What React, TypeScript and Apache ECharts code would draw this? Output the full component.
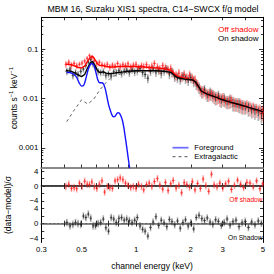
import React, { useEffect, useRef } from 'react';
import * as echarts from 'echarts';

// ---------- data ----------
const offE = [0.410, 0.425, 0.440, 0.455, 0.470, 0.487, 0.503, 0.520, 0.537, 0.553, 0.570, 0.588, 0.607, 0.627, 0.648, 0.670, 0.693, 0.716, 0.740, 0.765, 0.790, 0.817, 0.845, 0.873, 0.902, 0.933, 0.965, 0.998, 1.03, 1.07, 1.10, 1.14, 1.18, 1.22, 1.26, 1.31, 1.35, 1.40, 1.45, 1.50, 1.55, 1.60, 1.66, 1.72, 1.78, 1.84, 1.90, 1.97, 2.04, 2.11, 2.18, 2.26, 2.34, 2.42, 2.51, 2.60, 2.69, 2.79, 2.89, 3.00, 3.11, 3.23, 3.35, 3.48, 3.62, 3.76, 3.91, 4.07, 4.24, 4.42, 4.61, 4.81, 4.98];
const offV = [0.050, 0.055, 0.048, 0.052, 0.047, 0.050, 0.053, 0.058, 0.066, 0.075, 0.068, 0.060, 0.052, 0.055, 0.049, 0.047, 0.050, 0.044, 0.048, 0.046, 0.052, 0.045, 0.049, 0.047, 0.051, 0.044, 0.048, 0.050, 0.043, 0.047, 0.045, 0.049, 0.042, 0.046, 0.052, 0.044, 0.040, 0.047, 0.043, 0.039, 0.041, 0.034, 0.030, 0.033, 0.028, 0.031, 0.027, 0.030, 0.026, 0.024, 0.019, 0.015, 0.014, 0.013, 0.012, 0.0125, 0.011, 0.0105, 0.0098, 0.0100, 0.0090, 0.0088, 0.0092, 0.0080, 0.0078, 0.0075, 0.0070, 0.0072, 0.0066, 0.0063, 0.0060, 0.0057, 0.0053];
const offErr = [0.16, 0.15, 0.17, 0.15, 0.16, 0.14, 0.15, 0.13, 0.12, 0.12, 0.13, 0.14, 0.15, 0.14, 0.16, 0.16, 0.15, 0.17, 0.16, 0.17, 0.15, 0.18, 0.16, 0.17, 0.16, 0.18, 0.17, 0.16, 0.18, 0.17, 0.19, 0.18, 0.20, 0.19, 0.18, 0.20, 0.21, 0.19, 0.20, 0.21, 0.22, 0.21, 0.23, 0.22, 0.24, 0.23, 0.22, 0.24, 0.23, 0.25, 0.26, 0.27, 0.28, 0.27, 0.29, 0.28, 0.30, 0.29, 0.31, 0.30, 0.29, 0.31, 0.30, 0.32, 0.31, 0.33, 0.32, 0.31, 0.33, 0.34, 0.32, 0.34, 0.35];
const offRes = [-0.1, 0.5, -0.6, -0.4, -0.7, 0.8, -0.1, 1.3, 0.5, 0.4, 1.1, -0.2, -0.6, 0.5, 1.4, -1.6, -0.1, -0.4, -0.6, 1.4, 1.7, 2.2, 1.7, 0.8, 0.2, -0.4, -0.1, -0.6, 0.5, -0.1, -1.0, 0.4, 0.8, -0.1, 1.2, 2.0, 0.3, -0.8, 1.0, -1.2, 0.6, 1.5, -0.5, 0.2, -1.8, 0.9, 0.4, -0.3, 1.2, -1.0, 0.7, -0.6, 1.9, 0.1, -1.4, 3.2, 0.3, -0.2, 0.8, -0.5, 0.6, 1.3, -0.9, 0.2, 1.6, 0.5, -0.4, 1.0, 0.8, -0.2, 1.4, -0.7, 0.6];

const onE = [0.415, 0.432, 0.448, 0.463, 0.478, 0.495, 0.512, 0.528, 0.545, 0.562, 0.579, 0.597, 0.617, 0.637, 0.659, 0.681, 0.704, 0.728, 0.752, 0.777, 0.803, 0.831, 0.859, 0.887, 0.917, 0.949, 0.981, 1.015, 1.05, 1.085, 1.12, 1.16, 1.20, 1.24, 1.285, 1.33, 1.375, 1.425, 1.475, 1.525, 1.575, 1.63, 1.69, 1.75, 1.81, 1.87, 1.935, 2.00, 2.075, 2.145, 2.22, 2.30, 2.38, 2.465, 2.555, 2.645, 2.74, 2.84, 2.945, 3.055, 3.17, 3.29, 3.415, 3.55, 3.69, 3.835, 3.99, 4.155, 4.33, 4.515, 4.71, 4.90];
const onV = [0.036, 0.040, 0.030, 0.034, 0.031, 0.036, 0.040, 0.047, 0.055, 0.062, 0.050, 0.043, 0.036, 0.034, 0.035, 0.030, 0.032, 0.029, 0.035, 0.034, 0.037, 0.033, 0.036, 0.038, 0.034, 0.039, 0.035, 0.037, 0.041, 0.034, 0.031, 0.026, 0.036, 0.040, 0.035, 0.038, 0.033, 0.037, 0.040, 0.032, 0.035, 0.028, 0.027, 0.025, 0.029, 0.026, 0.024, 0.027, 0.023, 0.020, 0.017, 0.014, 0.015, 0.012, 0.013, 0.0118, 0.0105, 0.0112, 0.0095, 0.0098, 0.0087, 0.0092, 0.0082, 0.0079, 0.0077, 0.0071, 0.0069, 0.0066, 0.0060, 0.0058, 0.0054, 0.0050];
const onErr = [0.17, 0.16, 0.18, 0.17, 0.18, 0.16, 0.15, 0.14, 0.13, 0.13, 0.14, 0.15, 0.17, 0.16, 0.17, 0.18, 0.17, 0.19, 0.17, 0.18, 0.17, 0.19, 0.18, 0.17, 0.19, 0.18, 0.18, 0.19, 0.18, 0.20, 0.19, 0.21, 0.20, 0.19, 0.21, 0.20, 0.22, 0.21, 0.20, 0.22, 0.23, 0.22, 0.24, 0.23, 0.22, 0.24, 0.25, 0.24, 0.26, 0.25, 0.27, 0.28, 0.27, 0.29, 0.30, 0.29, 0.31, 0.30, 0.32, 0.31, 0.30, 0.32, 0.33, 0.31, 0.34, 0.33, 0.32, 0.35, 0.34, 0.36, 0.35, 0.37];
const onRes = [0.3, -0.6, -0.2, 0.3, 0.0, -0.2, 2.0, 1.6, 2.5, 1.4, -0.6, -0.6, 0.0, 0.3, 1.2, -1.1, -2.0, 1.6, 1.2, 0.3, 1.4, 1.6, 0.9, 1.2, 0.8, 0.3, 0.9, 1.6, -0.6, -1.5, -2.0, -3.3, -1.0, 0.4, 1.8, -0.5, 0.9, 0.2, -0.8, 1.1, 0.5, -0.3, 0.7, -1.2, 0.3, 1.0, -0.6, 0.2, -1.4, 1.6, 2.2, 1.3, 0.8, 1.5, 0.4, -0.2, 1.0, 0.6, -0.5, 0.3, 1.2, -0.4, 0.5, 0.9, -0.8, 0.2, 0.6, -1.0, 0.4, -0.3, 0.7, 0.1];

const modelE = [0.41, 0.42, 0.44, 0.46, 0.48, 0.50, 0.52, 0.54, 0.56, 0.575, 0.59, 0.61, 0.63, 0.66, 0.68, 0.72, 0.76, 0.80, 0.85, 0.90, 1.0, 1.1, 1.2, 1.3, 1.4, 1.5, 1.56, 1.62, 1.68, 1.75, 1.85, 1.95, 2.05, 2.12, 2.2, 2.28, 2.35, 2.45, 2.6, 2.8, 3.0, 3.3, 3.6, 4.0, 4.4, 4.8, 5.0];
const onModelV = [0.038, 0.037, 0.036, 0.033, 0.030, 0.028, 0.031, 0.042, 0.054, 0.057, 0.049, 0.038, 0.034, 0.035, 0.033, 0.032, 0.033, 0.034, 0.035, 0.036, 0.037, 0.037, 0.037, 0.037, 0.036, 0.035, 0.034, 0.030, 0.027, 0.026, 0.025, 0.0245, 0.024, 0.022, 0.018, 0.0145, 0.0135, 0.0125, 0.0115, 0.0105, 0.0095, 0.0085, 0.0078, 0.007, 0.0063, 0.0057, 0.0054];
const offModelV = [0.050, 0.050, 0.049, 0.046, 0.043, 0.042, 0.046, 0.058, 0.070, 0.073, 0.064, 0.052, 0.047, 0.047, 0.045, 0.044, 0.044, 0.045, 0.045, 0.045, 0.045, 0.044, 0.043, 0.042, 0.041, 0.039, 0.037, 0.032, 0.029, 0.027, 0.026, 0.025, 0.024, 0.022, 0.018, 0.0145, 0.0135, 0.0125, 0.0115, 0.0105, 0.0095, 0.0085, 0.0078, 0.007, 0.0063, 0.0057, 0.0054];

const fgE = [0.414, 0.43, 0.44, 0.455, 0.47, 0.485, 0.50, 0.515, 0.53, 0.545, 0.56, 0.572, 0.585, 0.60, 0.615, 0.63, 0.645, 0.66, 0.675, 0.69, 0.705, 0.72, 0.735, 0.75, 0.765, 0.78, 0.795, 0.81, 0.825, 0.84, 0.855, 0.87, 0.885, 0.90, 0.915, 0.93];
const fgV = [0.034, 0.034, 0.033, 0.031, 0.027, 0.021, 0.018, 0.019, 0.027, 0.040, 0.050, 0.052, 0.047, 0.034, 0.024, 0.021, 0.021, 0.020, 0.016, 0.011, 0.0075, 0.0058, 0.0047, 0.0043, 0.0044, 0.0049, 0.0052, 0.0050, 0.0044, 0.0036, 0.0026, 0.0017, 0.0011, 0.0007, 0.00045, 0.0003];

const egE = [0.414, 0.45, 0.50, 0.54, 0.58, 0.63, 0.68, 0.72, 0.76, 0.80, 0.85, 0.9, 1.0, 1.1, 1.2, 1.3, 1.4, 1.5, 1.56, 1.62, 1.68, 1.75, 1.85, 1.95, 2.05, 2.12, 2.2, 2.28, 2.35, 2.45, 2.6, 2.8, 3.0, 3.3, 3.6, 4.0, 4.4, 4.8, 5.0];
const egV = [0.0034, 0.0055, 0.0095, 0.0078, 0.0095, 0.015, 0.021, 0.026, 0.029, 0.031, 0.033, 0.035, 0.036, 0.037, 0.037, 0.037, 0.036, 0.035, 0.034, 0.030, 0.027, 0.026, 0.025, 0.0245, 0.024, 0.022, 0.018, 0.0145, 0.0135, 0.0125, 0.0115, 0.0105, 0.0095, 0.0085, 0.0078, 0.007, 0.0063, 0.0057, 0.0054];

const xLabelValues = [0.3, 0.5, 1, 2, 3, 5];
const xTickValues = [0.3, 0.4, 0.5, 0.6, 0.7, 0.8, 0.9, 1, 2, 3, 4, 5];
const yMajorValues = [0.001, 0.01, 0.1];
const yMinorValues = [0.0005, 0.0006, 0.0007, 0.0008, 0.0009, 0.002, 0.003, 0.004, 0.005, 0.006, 0.007, 0.008, 0.009, 0.02, 0.03, 0.04, 0.05, 0.06, 0.07, 0.08, 0.09, 0.2, 0.3, 0.4];
const resTickValues = [-4, -2, 0, 2, 4];
const resLabelValues = [-4, 0, 4];

// ---------- helpers ----------
const FONT = 'Liberation Sans, Arial, Helvetica, sans-serif';
const X_MIN = 0.3, X_MAX = 5;
const Y_MIN = 0.0004, Y_MAX = 0.45;

function edges(E: number[]) {
  return E.map((e, i) => {
    const lo = i > 0 ? Math.sqrt(E[i - 1] * e) : e / Math.sqrt(E[1] / E[0]);
    const hi = i < E.length - 1 ? Math.sqrt(E[i + 1] * e) : e * Math.sqrt(e / E[i - 1]);
    return [lo, hi];
  });
}

function errData(E: number[], V: number[], err: number[]) {
  const ed = edges(E);
  return E.map((e, i) => [e, V[i], V[i] * (1 - err[i]), V[i] * (1 + err[i]), ed[i][0], ed[i][1]]);
}
function resData(E: number[], R: number[]) {
  const ed = edges(E);
  return E.map((e, i) => [e, R[i], R[i] - 1, R[i] + 1, ed[i][0], ed[i][1]]);
}

function errSeries(xi: number, yi: number, data: number[][], color: string, light: string, z: number) {
  return {
    type: 'custom',
    xAxisIndex: xi,
    yAxisIndex: yi,
    z,
    clip: true,
    silent: true,
    encode: { x: 0, y: 1 },
    data,
    renderItem: (params: any, api: any) => {
      const x = api.value(0), y = api.value(1);
      const c = api.coord([x, y]);
      const lo = api.coord([x, api.value(2)]);
      const hi = api.coord([x, api.value(3)]);
      const l = api.coord([api.value(4), y]);
      const r = api.coord([api.value(5), y]);
      const h = (lo[1] - hi[1]) * 0.28;
      return {
        type: 'group',
        children: [
          { type: 'line', shape: { x1: c[0], y1: lo[1], x2: c[0], y2: hi[1] }, style: { stroke: light, lineWidth: 1.6 } },
          { type: 'line', shape: { x1: c[0], y1: c[1] - h, x2: c[0], y2: c[1] + h }, style: { stroke: color, lineWidth: 0.7 } },
          { type: 'line', shape: { x1: l[0], y1: c[1], x2: r[0], y2: c[1] }, style: { stroke: color, lineWidth: 0.7 } },
        ],
      };
    },
  };
}

const gridL = 41.3, gridW = 221.7;
const grids = [
  { left: gridL, top: 17.3, width: gridW, height: 150.2, outerBoundsMode: 'none' },
  { left: gridL, top: 167.5, width: gridW, height: 37.2, outerBoundsMode: 'none' },
  { left: gridL, top: 204.7, width: gridW, height: 37.8, outerBoundsMode: 'none' },
];

const tickStyle = { color: '#000', width: 0.8 };
function xAx(grid: number, pos: string, line: any, labels: boolean) {
  return {
    type: 'log', logBase: 10, gridIndex: grid, position: pos, min: X_MIN, max: X_MAX,
    axisLine: line ? { show: true, lineStyle: line } : { show: false },
    axisTick: { show: true, inside: true, length: 3, customValues: xTickValues, lineStyle: tickStyle },
    axisLabel: labels
      ? { show: true, customValues: xLabelValues, formatter: (v: number) => String(+v.toPrecision(3)), fontSize: 7.8, color: '#000', fontFamily: FONT, margin: 3 }
      : { show: false },
    splitLine: { show: false }, minorTick: { show: false },
  };
}
function yLogAx(pos: string, minor: boolean, labels: boolean) {
  return {
    type: 'log', logBase: 10, gridIndex: 0, position: pos, offset: 0, min: Y_MIN, max: Y_MAX,
    axisLine: minor ? { show: false } : { show: true, lineStyle: { color: '#000', width: 1 } },
    axisTick: { show: true, inside: true, length: minor ? 2 : 4, customValues: minor ? yMinorValues : yMajorValues, lineStyle: tickStyle },
    axisLabel: labels
      ? { show: true, customValues: yMajorValues, formatter: (v: number) => String(+v.toPrecision(3)), fontSize: 7.8, color: '#000', fontFamily: FONT, margin: 3 }
      : { show: false },
    splitLine: { show: false }, minorTick: { show: false },
  };
}
function yResAx(grid: number, pos: string, labels: boolean) {
  return {
    type: 'value', gridIndex: grid, position: pos, min: -5, max: 5,
    axisLine: { show: true, lineStyle: { color: '#000', width: 1 } },
    axisTick: { show: true, inside: true, length: 3, customValues: resTickValues, lineStyle: tickStyle },
    axisLabel: labels
      ? { show: true, customValues: resLabelValues, formatter: (v: number) => (v < 0 ? '\u2212' + Math.abs(v) : String(v)), fontSize: 7.8, color: '#000', fontFamily: FONT, margin: 3 }
      : { show: false },
    splitLine: { show: false },
  };
}

const gray = { color: '#8a8a8a', width: 2.2 };
const zeroLine = {
  silent: true, symbol: 'none', label: { show: false },
  lineStyle: { type: [2, 2], color: '#555', width: 0.8 },
  data: [{ yAxis: 0 }],
};

const option: any = {
  animation: false,
  backgroundColor: '#fff',
  textStyle: { fontFamily: FONT },
  grid: grids,
  xAxis: [
    xAx(0, 'bottom', gray, false),
    xAx(0, 'top', { color: '#000', width: 1 }, false),
    xAx(1, 'bottom', { color: '#000', width: 1.5 }, false),
    xAx(1, 'top', null, false),
    xAx(2, 'bottom', gray, true),
    xAx(2, 'top', null, false),
  ],
  yAxis: [
    yLogAx('left', false, true),
    yLogAx('left', true, false),
    yLogAx('right', false, false),
    yLogAx('right', true, false),
    yResAx(1, 'left', true),
    yResAx(1, 'right', false),
    yResAx(2, 'left', true),
    yResAx(2, 'right', false),
  ],
  series: [
    errSeries(0, 0, errData(onE, onV, onErr), '#222', 'rgba(0,0,0,0.3)', 2),
    errSeries(0, 0, errData(offE, offV, offErr), '#ff1a1a', 'rgba(255,0,0,0.33)', 3),
    {
      type: 'line', xAxisIndex: 0, yAxisIndex: 0, z: 4, symbol: 'none', silent: true,
      data: modelE.map((e, i) => [e, offModelV[i]]),
      lineStyle: { color: '#ff0000', width: 1.4 },
    },
    {
      type: 'line', xAxisIndex: 0, yAxisIndex: 0, z: 5, symbol: 'none', silent: true,
      data: modelE.map((e, i) => [e, onModelV[i]]),
      lineStyle: { color: '#000', width: 1.4 },
    },
    {
      type: 'line', xAxisIndex: 0, yAxisIndex: 0, z: 4, symbol: 'none', silent: true,
      data: egE.map((e, i) => [e, egV[i]]),
      lineStyle: { color: '#666', width: 1, type: [3, 3] },
    },
    {
      type: 'line', xAxisIndex: 0, yAxisIndex: 0, z: 6, symbol: 'none', silent: true, smooth: 0.3,
      data: fgE.map((e, i) => [e, fgV[i]]),
      lineStyle: { color: '#1414ff', width: 1.4 },
    },
    { ...errSeries(2, 4, resData(offE, offRes), '#ff1a1a', 'rgba(255,0,0,0.33)', 3), markLine: zeroLine },
    { ...errSeries(4, 6, resData(onE, onRes), '#222', 'rgba(0,0,0,0.3)', 3), markLine: zeroLine },
  ],
  graphic: [
    { type: 'text', x: 153, y: 9, style: { text: 'MBM 16, Suzaku XIS1 spectra, C14\u2212SWCX f/g model', fontSize: 8.8, fill: '#000', align: 'center', verticalAlign: 'middle', fontFamily: FONT } },
    { type: 'text', x: 258.5, y: 29, style: { text: 'Off shadow', fontSize: 8, fill: '#ff0000', align: 'right', verticalAlign: 'middle', fontFamily: FONT } },
    { type: 'text', x: 258.5, y: 38.5, style: { text: 'On shadow', fontSize: 8, fill: '#000', align: 'right', verticalAlign: 'middle', fontFamily: FONT } },
    { type: 'line', shape: { x1: 172.5, y1: 147.7, x2: 188.5, y2: 147.7 }, style: { stroke: '#6f6fff', lineWidth: 1.8 } },
    { type: 'text', x: 194.3, y: 147.7, style: { text: 'Foreground', fontSize: 7.6, fill: '#000', align: 'left', verticalAlign: 'middle', fontFamily: FONT } },
    { type: 'line', shape: { x1: 172.5, y1: 156.7, x2: 188.5, y2: 156.7 }, style: { stroke: '#555', lineWidth: 1, lineDash: [3, 3] } },
    { type: 'text', x: 194.3, y: 156.7, style: { text: 'Extragalactic', fontSize: 7.6, fill: '#000', align: 'left', verticalAlign: 'middle', fontFamily: FONT } },
    { type: 'text', x: 262.5, y: 199.3, style: { text: 'Off shadow', fontSize: 6.6, fill: '#ff0000', align: 'right', verticalAlign: 'middle', fontFamily: FONT } },
    { type: 'text', x: 262.5, y: 237.3, style: { text: 'On Shadow', fontSize: 6.6, fill: '#000', align: 'right', verticalAlign: 'middle', fontFamily: FONT } },
    { type: 'text', x: 152, y: 265.5, style: { text: 'channel energy (keV)', fontSize: 8.6, fill: '#000', align: 'center', verticalAlign: 'middle', fontFamily: FONT } },
    {
      type: 'text', x: 13, y: 98, rotation: Math.PI / 2,
      style: {
        text: '{a|counts s}{s|\u22121}{a| keV}{s|\u22121}', align: 'center', verticalAlign: 'middle', fontFamily: FONT,
        rich: {
          a: { fontSize: 8.5, fill: '#000', fontFamily: FONT, verticalAlign: 'bottom', lineHeight: 11 },
          s: { fontSize: 5.8, fill: '#000', fontFamily: FONT, verticalAlign: 'top', lineHeight: 11 },
        },
      },
    },
    { type: 'text', x: 8, y: 205, rotation: Math.PI / 2, style: { text: '(data\u2212model)/\u03c3', fontSize: 8.5, fill: '#000', align: 'center', verticalAlign: 'middle', fontFamily: FONT } },
  ],
};

export default function App() {
  const ref = useRef<HTMLDivElement>(null);
  useEffect(() => {
    const chart = echarts.init(ref.current!, null, { renderer: 'svg' });
    chart.setOption(option);
    return () => chart.dispose();
  }, []);
  return <div ref={ref} style={{ position: 'fixed', left: 0, top: 0, width: 274, height: 274, background: '#fff' }} />;
}
